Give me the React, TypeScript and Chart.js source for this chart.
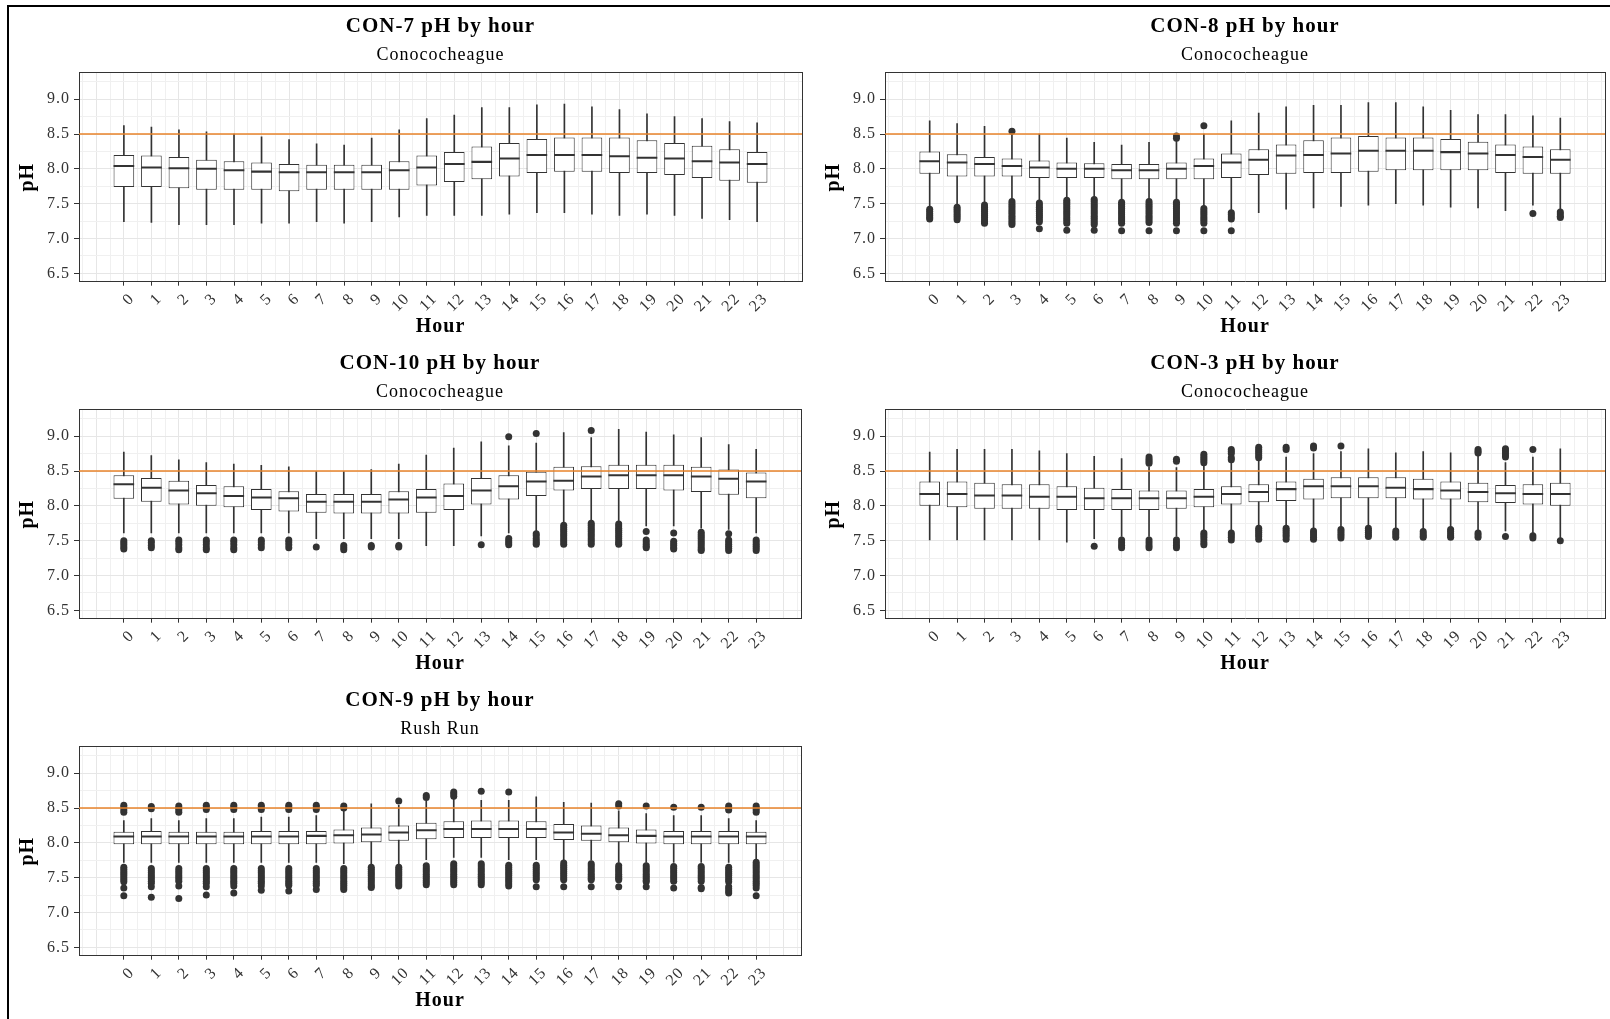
import React, { useEffect, useRef } from "react";
import { Chart, registerables } from "chart.js";

Chart.register(...registerables);

// ---------- axes / ticks ----------
const HOURS = [0, 1, 2, 3, 4, 5, 6, 7, 8, 9, 10, 11, 12, 13, 14, 15, 16, 17, 18, 19, 20, 21, 22, 23];
const X_MAJOR = [-1, 0, 1, 2, 3, 4, 5, 6, 7, 8, 9, 10, 11, 12, 13, 14, 15, 16, 17, 18, 19, 20, 21, 22, 23, 24];
const X_MINOR = [-1.5, -0.5, 0.5, 1.5, 2.5, 3.5, 4.5, 5.5, 6.5, 7.5, 8.5, 9.5, 10.5, 11.5, 12.5, 13.5, 14.5, 15.5, 16.5, 17.5, 18.5, 19.5, 20.5, 21.5, 22.5, 23.5, 24.5];
const Y_MAJOR = [6.5, 7.0, 7.5, 8.0, 8.5, 9.0];
const Y_MINOR = [6.75, 7.25, 7.75, 8.25, 8.75, 9.25];
const X_MIN = -1.63;
const X_MAX = 24.63;
const Y_MIN = 6.38;
const Y_MAX = 9.38;
const THRESHOLD = 8.5;

// ---------- CON-7 ----------
const con7Hi = [8.62, 8.60, 8.56, 8.53, 8.50, 8.46, 8.42, 8.36, 8.34, 8.44, 8.56, 8.72, 8.77, 8.88, 8.88, 8.92, 8.93, 8.89, 8.85, 8.79, 8.75, 8.72, 8.68, 8.66];
const con7Q3 = [8.20, 8.19, 8.17, 8.13, 8.11, 8.09, 8.07, 8.06, 8.06, 8.06, 8.11, 8.19, 8.24, 8.32, 8.37, 8.43, 8.45, 8.45, 8.45, 8.41, 8.37, 8.33, 8.28, 8.24];
const con7Med = [8.04, 8.02, 8.01, 8.00, 7.98, 7.96, 7.95, 7.95, 7.95, 7.95, 7.98, 8.02, 8.07, 8.10, 8.15, 8.20, 8.20, 8.20, 8.18, 8.16, 8.15, 8.11, 8.09, 8.07];
const con7Q1 = [7.74, 7.74, 7.72, 7.70, 7.70, 7.70, 7.68, 7.70, 7.70, 7.70, 7.70, 7.76, 7.81, 7.85, 7.89, 7.94, 7.96, 7.96, 7.94, 7.94, 7.91, 7.87, 7.83, 7.80];
const con7Lo = [7.24, 7.23, 7.20, 7.20, 7.20, 7.22, 7.22, 7.24, 7.22, 7.24, 7.31, 7.33, 7.33, 7.33, 7.35, 7.37, 7.37, 7.35, 7.33, 7.35, 7.33, 7.29, 7.27, 7.24];
const con7Out: number[][] = [[], [], [], [], [], [], [], [], [], [], [], [], [], [], [], [], [], [], [], [], [], [], [], []];

// ---------- CON-8 ----------
const con8Hi = [8.69, 8.65, 8.61, 8.53, 8.50, 8.44, 8.38, 8.34, 8.38, 8.42, 8.50, 8.69, 8.80, 8.89, 8.91, 8.91, 8.95, 8.95, 8.89, 8.84, 8.78, 8.78, 8.76, 8.73];
const con8Q3 = [8.25, 8.21, 8.17, 8.15, 8.12, 8.09, 8.08, 8.07, 8.07, 8.09, 8.15, 8.22, 8.28, 8.35, 8.41, 8.45, 8.47, 8.45, 8.45, 8.43, 8.39, 8.35, 8.32, 8.28];
const con8Med = [8.11, 8.09, 8.07, 8.04, 8.02, 8.00, 8.00, 7.98, 7.98, 8.00, 8.04, 8.09, 8.13, 8.19, 8.20, 8.22, 8.26, 8.26, 8.26, 8.24, 8.22, 8.20, 8.17, 8.13];
const con8Q1 = [7.93, 7.89, 7.89, 7.89, 7.87, 7.87, 7.87, 7.85, 7.85, 7.85, 7.85, 7.87, 7.91, 7.93, 7.94, 7.94, 7.96, 7.98, 7.98, 7.98, 7.98, 7.94, 7.93, 7.93];
const con8Lo = [7.45, 7.48, 7.52, 7.55, 7.53, 7.56, 7.57, 7.54, 7.55, 7.54, 7.46, 7.39, 7.37, 7.42, 7.44, 7.46, 7.48, 7.50, 7.48, 7.45, 7.44, 7.40, 7.48, 7.41];
const con8Out: number[][] = [
  [7.42, 7.39, 7.36, 7.33, 7.30, 7.28],
  [7.45, 7.42, 7.39, 7.36, 7.33, 7.30, 7.27],
  [7.48, 7.45, 7.42, 7.39, 7.36, 7.33, 7.30, 7.27, 7.24, 7.22],
  [8.54, 7.53, 7.50, 7.47, 7.44, 7.41, 7.38, 7.35, 7.32, 7.29, 7.26, 7.23, 7.20],
  [7.51, 7.48, 7.45, 7.42, 7.39, 7.36, 7.33, 7.30, 7.27, 7.24, 7.14],
  [7.55, 7.52, 7.49, 7.46, 7.43, 7.40, 7.37, 7.34, 7.31, 7.28, 7.25, 7.22, 7.12],
  [7.56, 7.53, 7.50, 7.47, 7.44, 7.41, 7.38, 7.35, 7.32, 7.29, 7.26, 7.23, 7.20, 7.12],
  [7.52, 7.49, 7.46, 7.43, 7.40, 7.37, 7.34, 7.31, 7.28, 7.25, 7.22, 7.11],
  [7.53, 7.50, 7.47, 7.44, 7.41, 7.38, 7.35, 7.32, 7.29, 7.26, 7.23, 7.11],
  [8.47, 8.44, 7.52, 7.49, 7.46, 7.43, 7.40, 7.37, 7.34, 7.31, 7.28, 7.25, 7.22, 7.11],
  [8.62, 7.43, 7.40, 7.37, 7.34, 7.31, 7.28, 7.25, 7.22, 7.11],
  [7.37, 7.34, 7.31, 7.28, 7.11],
  [], [], [], [], [], [], [], [], [], [],
  [7.36],
  [7.38, 7.35, 7.32, 7.30],
];

// ---------- CON-10 ----------
const con10Hi = [8.77, 8.72, 8.66, 8.62, 8.60, 8.58, 8.56, 8.49, 8.49, 8.52, 8.60, 8.73, 8.83, 8.92, 8.86, 8.90, 9.05, 8.98, 9.10, 9.06, 9.02, 8.98, 8.88, 8.81];
const con10Q3 = [8.44, 8.40, 8.36, 8.30, 8.28, 8.24, 8.21, 8.17, 8.17, 8.17, 8.21, 8.24, 8.32, 8.40, 8.44, 8.49, 8.56, 8.57, 8.59, 8.59, 8.59, 8.56, 8.52, 8.48];
const con10Med = [8.31, 8.26, 8.22, 8.18, 8.14, 8.12, 8.11, 8.06, 8.06, 8.06, 8.09, 8.12, 8.14, 8.22, 8.28, 8.35, 8.36, 8.42, 8.44, 8.44, 8.44, 8.42, 8.39, 8.35];
const con10Q1 = [8.10, 8.06, 8.02, 8.00, 7.98, 7.94, 7.92, 7.90, 7.89, 7.89, 7.89, 7.90, 7.94, 8.02, 8.09, 8.14, 8.22, 8.24, 8.24, 8.24, 8.22, 8.20, 8.16, 8.11];
const con10Lo = [7.61, 7.61, 7.61, 7.61, 7.61, 7.61, 7.61, 7.53, 7.53, 7.53, 7.53, 7.43, 7.43, 7.57, 7.61, 7.62, 7.77, 7.78, 7.78, 7.71, 7.71, 7.68, 7.66, 7.61];
const con10Out: number[][] = [
  [7.50, 7.47, 7.44, 7.41, 7.38],
  [7.50, 7.47, 7.43, 7.40],
  [7.51, 7.48, 7.44, 7.40, 7.37],
  [7.51, 7.48, 7.44, 7.40, 7.37],
  [7.51, 7.48, 7.44, 7.40, 7.37],
  [7.51, 7.48, 7.44, 7.40],
  [7.51, 7.48, 7.44, 7.40],
  [7.41],
  [7.43, 7.40, 7.37],
  [7.43, 7.41],
  [7.43, 7.41],
  [],
  [],
  [7.44],
  [8.99, 7.53, 7.50, 7.47, 7.44],
  [9.04, 7.60, 7.57, 7.53, 7.50, 7.47, 7.45],
  [7.72, 7.69, 7.66, 7.63, 7.60, 7.57, 7.54, 7.51, 7.48, 7.45],
  [9.08, 7.75, 7.72, 7.69, 7.66, 7.63, 7.60, 7.57, 7.54, 7.51, 7.48, 7.45],
  [7.74, 7.71, 7.68, 7.65, 7.62, 7.59, 7.56, 7.53, 7.50, 7.47, 7.45],
  [7.63, 7.51, 7.48, 7.45, 7.42, 7.40],
  [7.61, 7.49, 7.46, 7.43, 7.40, 7.38],
  [7.62, 7.59, 7.56, 7.53, 7.50, 7.47, 7.44, 7.41, 7.38, 7.36],
  [7.60, 7.51, 7.48, 7.45, 7.42, 7.39, 7.36],
  [7.51, 7.48, 7.45, 7.42, 7.39, 7.36],
];

// ---------- CON-3 ----------
const con3Hi = [8.77, 8.81, 8.81, 8.81, 8.79, 8.75, 8.71, 8.68, 8.56, 8.55, 8.57, 8.62, 8.65, 8.70, 8.75, 8.78, 8.82, 8.76, 8.78, 8.76, 8.71, 8.62, 8.70, 8.82];
const con3Q3 = [8.35, 8.35, 8.33, 8.31, 8.31, 8.28, 8.26, 8.24, 8.22, 8.22, 8.24, 8.28, 8.31, 8.35, 8.39, 8.41, 8.41, 8.41, 8.39, 8.35, 8.33, 8.30, 8.31, 8.33];
const con3Med = [8.17, 8.17, 8.15, 8.15, 8.13, 8.13, 8.11, 8.11, 8.11, 8.11, 8.13, 8.17, 8.20, 8.24, 8.28, 8.28, 8.28, 8.26, 8.24, 8.22, 8.20, 8.18, 8.17, 8.17];
const con3Q1 = [8.00, 7.98, 7.96, 7.96, 7.96, 7.94, 7.94, 7.94, 7.94, 7.96, 7.98, 8.02, 8.05, 8.07, 8.09, 8.11, 8.11, 8.11, 8.09, 8.09, 8.05, 8.04, 8.02, 8.00];
const con3Lo = [7.51, 7.51, 7.51, 7.51, 7.51, 7.48, 7.53, 7.56, 7.56, 7.56, 7.64, 7.64, 7.71, 7.71, 7.66, 7.68, 7.70, 7.66, 7.66, 7.68, 7.64, 7.64, 7.61, 7.54];
const con3Out: number[][] = [
  [], [], [], [], [], [],
  [7.42],
  [7.51, 7.47, 7.43, 7.40],
  [8.70, 8.67, 8.64, 8.61, 7.51, 7.47, 7.43, 7.40],
  [8.67, 8.64, 7.51, 7.47, 7.43, 7.40],
  [8.74, 8.71, 8.68, 8.65, 8.62, 7.61, 7.58, 7.55, 7.51, 7.47, 7.44],
  [8.81, 8.78, 8.75, 8.69, 8.66, 7.61, 7.58, 7.55, 7.51],
  [8.84, 8.81, 8.78, 8.75, 8.72, 8.69, 7.68, 7.65, 7.62, 7.59, 7.56, 7.52],
  [8.84, 8.81, 7.68, 7.65, 7.62, 7.59, 7.56, 7.52],
  [8.86, 8.83, 7.64, 7.61, 7.58, 7.55, 7.52],
  [8.86, 7.66, 7.63, 7.60, 7.57, 7.54],
  [7.68, 7.65, 7.62, 7.59, 7.56],
  [7.64, 7.61, 7.58, 7.55],
  [7.63, 7.60, 7.57, 7.55],
  [7.66, 7.63, 7.60, 7.57, 7.55],
  [8.81, 8.78, 8.76, 7.61, 7.58, 7.55],
  [8.82, 8.79, 8.76, 8.73, 8.70, 7.56],
  [8.81, 7.57, 7.54],
  [7.50],
];

// ---------- CON-9 ----------
const con9Hi = [8.32, 8.35, 8.32, 8.35, 8.35, 8.37, 8.37, 8.39, 8.46, 8.56, 8.54, 8.60, 8.63, 8.61, 8.61, 8.66, 8.58, 8.57, 8.46, 8.42, 8.39, 8.39, 8.35, 8.32];
const con9Q3 = [8.16, 8.17, 8.16, 8.16, 8.16, 8.17, 8.17, 8.17, 8.19, 8.22, 8.25, 8.29, 8.31, 8.32, 8.32, 8.31, 8.27, 8.25, 8.22, 8.19, 8.17, 8.17, 8.17, 8.16];
const con9Med = [8.09, 8.09, 8.09, 8.09, 8.09, 8.09, 8.09, 8.10, 8.11, 8.12, 8.15, 8.18, 8.20, 8.20, 8.20, 8.20, 8.15, 8.13, 8.11, 8.10, 8.09, 8.09, 8.09, 8.09];
const con9Q1 = [7.98, 7.98, 7.98, 7.98, 7.98, 7.98, 7.98, 7.98, 7.99, 8.01, 8.03, 8.05, 8.07, 8.07, 8.07, 8.07, 8.04, 8.03, 8.01, 7.99, 7.98, 7.98, 7.98, 7.98];
const con9Lo = [7.72, 7.72, 7.72, 7.72, 7.72, 7.72, 7.72, 7.72, 7.70, 7.70, 7.70, 7.76, 7.79, 7.79, 7.76, 7.76, 7.74, 7.75, 7.72, 7.72, 7.72, 7.72, 7.72, 7.75];
const con9Out: number[][] = [
  [8.54, 8.51, 8.47, 8.44, 7.65, 7.62, 7.59, 7.56, 7.53, 7.50, 7.47, 7.44, 7.35, 7.24],
  [8.52, 8.49, 7.63, 7.60, 7.57, 7.54, 7.51, 7.48, 7.45, 7.42, 7.37, 7.22],
  [8.53, 8.50, 8.47, 8.44, 7.63, 7.60, 7.57, 7.54, 7.51, 7.48, 7.45, 7.38, 7.20],
  [8.54, 8.51, 8.48, 7.63, 7.60, 7.57, 7.54, 7.51, 7.48, 7.45, 7.42, 7.37, 7.25],
  [8.54, 8.51, 8.48, 7.63, 7.60, 7.57, 7.54, 7.51, 7.48, 7.45, 7.42, 7.38, 7.28],
  [8.54, 8.51, 8.48, 7.63, 7.60, 7.57, 7.54, 7.51, 7.48, 7.45, 7.42, 7.38, 7.32],
  [8.54, 8.51, 8.48, 7.63, 7.60, 7.57, 7.54, 7.51, 7.48, 7.45, 7.42, 7.39, 7.31],
  [8.54, 8.51, 8.48, 7.63, 7.60, 7.57, 7.54, 7.51, 7.48, 7.45, 7.42, 7.39, 7.33],
  [8.53, 8.50, 7.63, 7.60, 7.57, 7.54, 7.51, 7.48, 7.45, 7.42, 7.39, 7.36, 7.33],
  [7.65, 7.62, 7.59, 7.56, 7.53, 7.50, 7.47, 7.44, 7.41, 7.38, 7.36],
  [8.60, 7.65, 7.62, 7.59, 7.56, 7.53, 7.50, 7.47, 7.44, 7.41, 7.38],
  [8.68, 8.65, 7.67, 7.64, 7.61, 7.58, 7.55, 7.52, 7.49, 7.46, 7.43, 7.40],
  [8.73, 8.70, 8.67, 7.70, 7.67, 7.64, 7.61, 7.58, 7.55, 7.52, 7.49, 7.46, 7.43, 7.40],
  [8.74, 7.70, 7.67, 7.64, 7.61, 7.58, 7.55, 7.52, 7.49, 7.46, 7.43, 7.40],
  [8.73, 7.68, 7.65, 7.62, 7.59, 7.56, 7.53, 7.50, 7.47, 7.44, 7.41, 7.38],
  [7.68, 7.65, 7.62, 7.59, 7.56, 7.53, 7.50, 7.47, 7.37],
  [7.71, 7.68, 7.65, 7.62, 7.59, 7.56, 7.53, 7.50, 7.47, 7.37],
  [7.70, 7.67, 7.64, 7.61, 7.58, 7.55, 7.52, 7.49, 7.47, 7.37],
  [8.56, 8.53, 7.67, 7.64, 7.61, 7.58, 7.55, 7.52, 7.49, 7.47, 7.37],
  [8.53, 7.67, 7.64, 7.61, 7.58, 7.55, 7.52, 7.49, 7.46, 7.44, 7.37],
  [8.51, 7.66, 7.63, 7.60, 7.57, 7.54, 7.51, 7.48, 7.45, 7.35],
  [8.51, 7.66, 7.63, 7.60, 7.57, 7.54, 7.51, 7.48, 7.45, 7.36, 7.34],
  [8.53, 8.50, 8.47, 7.65, 7.62, 7.59, 7.56, 7.53, 7.50, 7.47, 7.44, 7.37, 7.34, 7.31, 7.28],
  [8.53, 8.50, 8.47, 8.44, 7.72, 7.69, 7.66, 7.63, 7.60, 7.57, 7.54, 7.51, 7.48, 7.45, 7.42, 7.39, 7.35, 7.24],
];

// ---------- styling ----------
const FONT = '"Liberation Serif", "Times New Roman", serif';
const DARK = "#333333";
const ORANGE = "#E8832A";
const GRID_MAJOR = "#e6e6e6";
const GRID_MINOR = "#f0f0f0";
const MEDIAN_HALF = 0.0145; // half thickness of the median bar, in pH units
const LETTER_SPACING = "1px";

type PanelCfg = {
  title: string;
  subtitle: string;
  lo: number[];
  q1: number[];
  med: number[];
  q3: number[];
  hi: number[];
  out: number[][];
  left: number;
  top: number;
  width: number;
};

const CANVAS_H = 337;
const X_AXIS_H = 55.3;
const Y_AXIS_W = 69;

const PANELS: PanelCfg[] = [
  { title: "CON-7 pH by hour", subtitle: "Conococheague", lo: con7Lo, q1: con7Q1, med: con7Med, q3: con7Q3, hi: con7Hi, out: con7Out, left: 10, top: 0, width: 795 },
  { title: "CON-8 pH by hour", subtitle: "Conococheague", lo: con8Lo, q1: con8Q1, med: con8Med, q3: con8Q3, hi: con8Hi, out: con8Out, left: 816, top: 0, width: 793 },
  { title: "CON-10 pH by hour", subtitle: "Conococheague", lo: con10Lo, q1: con10Q1, med: con10Med, q3: con10Q3, hi: con10Hi, out: con10Out, left: 10, top: 337, width: 795 },
  { title: "CON-3 pH by hour", subtitle: "Conococheague", lo: con3Lo, q1: con3Q1, med: con3Med, q3: con3Q3, hi: con3Hi, out: con3Out, left: 816, top: 337, width: 793 },
  { title: "CON-9 pH by hour", subtitle: "Rush Run", lo: con9Lo, q1: con9Q1, med: con9Med, q3: con9Q3, hi: con9Hi, out: con9Out, left: 10, top: 674, width: 795 },
];

// widen the serif text slightly, like the reference rendering
const spacingPlugin = {
  id: "letterSpacing",
  beforeUpdate(chart: any) {
    if ("letterSpacing" in chart.ctx) chart.ctx.letterSpacing = LETTER_SPACING;
  },
  beforeDraw(chart: any) {
    if ("letterSpacing" in chart.ctx) chart.ctx.letterSpacing = LETTER_SPACING;
  },
};

function Panel({ cfg }: { cfg: PanelCfg }) {
  const ref = useRef<HTMLCanvasElement>(null);

  useEffect(() => {
    const canvas = ref.current;
    if (!canvas) return;

    const whiskers = HOURS.map((h, i) => ({ x: h, y: [cfg.lo[i], cfg.hi[i]] }));
    const boxes = HOURS.map((h, i) => ({ x: h, y: [cfg.q1[i], cfg.q3[i]] }));
    const medians = HOURS.map((h, i) => ({ x: h, y: [cfg.med[i] - MEDIAN_HALF, cfg.med[i] + MEDIAN_HALF] }));
    const outliers: { x: number; y: number }[] = [];
    HOURS.forEach((h, i) => cfg.out[i].forEach((v) => outliers.push({ x: h, y: v })));

    const chart = new Chart(canvas, {
      type: "bar",
      plugins: [spacingPlugin],
      data: {
        datasets: [
          {
            type: "line",
            data: [
              { x: X_MIN, y: THRESHOLD },
              { x: X_MAX, y: THRESHOLD },
            ],
            borderColor: ORANGE,
            borderWidth: 1.6,
            pointRadius: 0,
            order: 0,
          } as any,
          {
            type: "scatter",
            data: outliers,
            pointRadius: 3.5,
            pointBackgroundColor: DARK,
            pointBorderWidth: 0,
            order: 1,
          } as any,
          {
            type: "bar",
            data: medians,
            backgroundColor: DARK,
            borderWidth: 0,
            grouped: false,
            categoryPercentage: 1,
            barPercentage: 0.75,
            order: 1,
          } as any,
          {
            type: "bar",
            data: boxes,
            backgroundColor: "#ffffff",
            borderColor: DARK,
            borderWidth: 1,
            borderSkipped: false,
            grouped: false,
            categoryPercentage: 1,
            barPercentage: 0.75,
            order: 2,
          } as any,
          {
            type: "bar",
            data: whiskers,
            backgroundColor: DARK,
            borderWidth: 0,
            barThickness: 1,
            grouped: false,
            order: 3,
          } as any,
        ],
      },
      options: {
        animation: false,
        responsive: false,
        maintainAspectRatio: false,
        events: [],
        layout: { padding: { left: 0, right: 3, top: 0, bottom: 0 } },
        plugins: {
          legend: { display: false },
          tooltip: { enabled: false },
          title: {
            display: true,
            text: cfg.title,
            fullSize: false,
            color: "#000000",
            font: { family: FONT, size: 21, weight: "bold", lineHeight: 1.2 },
            padding: { top: 14.3, bottom: 0 },
          },
          subtitle: {
            display: true,
            text: cfg.subtitle,
            fullSize: false,
            color: "#000000",
            font: { family: FONT, size: 18, weight: "normal", lineHeight: 1.2 },
            padding: { top: 4.5, bottom: 7.1 },
          },
        },
        scales: {
          x: {
            type: "linear",
            position: "bottom",
            min: X_MIN,
            max: X_MAX,
            offset: false,
            afterBuildTicks: (s: any) => {
              s.ticks = X_MAJOR.map((v) => ({ value: v }));
            },
            afterFit: (s: any) => {
              s.height = X_AXIS_H;
            },
            ticks: {
              autoSkip: false,
              minRotation: 45,
              maxRotation: 45,
              padding: 4,
              labelOffset: 8,
              color: DARK,
              font: { family: FONT, size: 16 },
              callback: (v: any) => (v >= 0 && v <= 23 ? String(v) : ""),
            },
            grid: {
              offset: false,
              color: GRID_MAJOR,
              lineWidth: 1,
              drawTicks: true,
              tickLength: 4,
              tickWidth: 1,
              tickColor: (ctx: any) =>
                ctx.tick && ctx.tick.value >= 0 && ctx.tick.value <= 23 ? DARK : "rgba(0,0,0,0)",
            },
            border: { display: true, color: DARK, width: 1 },
            title: {
              display: true,
              text: "Hour",
              color: "#000000",
              font: { family: FONT, size: 20, weight: "bold", lineHeight: 1 },
              padding: { top: 0, bottom: 0.5 },
            },
          },
          x2: {
            type: "linear",
            position: "top",
            display: true,
            min: X_MIN,
            max: X_MAX,
            offset: false,
            afterBuildTicks: (s: any) => {
              s.ticks = X_MINOR.map((v) => ({ value: v }));
            },
            ticks: { display: false },
            grid: { offset: false, color: GRID_MINOR, lineWidth: 1, drawTicks: false },
            border: { display: true, color: DARK, width: 1 },
          },
          y: {
            type: "linear",
            position: "left",
            min: Y_MIN,
            max: Y_MAX,
            beginAtZero: false,
            afterBuildTicks: (s: any) => {
              s.ticks = Y_MAJOR.map((v) => ({ value: v }));
            },
            afterFit: (s: any) => {
              s.width = Y_AXIS_W;
            },
            ticks: {
              autoSkip: false,
              padding: 4,
              color: DARK,
              font: { family: FONT, size: 16 },
              callback: (v: any) => Number(v).toFixed(1),
            },
            grid: {
              color: GRID_MAJOR,
              lineWidth: 1,
              drawTicks: true,
              tickLength: 5,
              tickWidth: 1,
              tickColor: DARK,
            },
            border: { display: true, color: DARK, width: 1 },
            title: {
              display: true,
              text: "pH",
              color: "#000000",
              font: { family: FONT, size: 20, weight: "bold", lineHeight: 1 },
              padding: { top: 8, bottom: 0 },
            },
          },
          y2: {
            type: "linear",
            position: "right",
            display: true,
            min: Y_MIN,
            max: Y_MAX,
            beginAtZero: false,
            afterBuildTicks: (s: any) => {
              s.ticks = Y_MINOR.map((v) => ({ value: v }));
            },
            ticks: { display: false },
            grid: { color: GRID_MINOR, lineWidth: 1, drawTicks: false },
            border: { display: true, color: DARK, width: 1 },
          },
        },
      } as any,
    });

    return () => chart.destroy();
  }, [cfg]);

  return (
    <canvas
      ref={ref}
      width={cfg.width}
      height={CANVAS_H}
      style={{
        position: "absolute",
        left: cfg.left,
        top: cfg.top,
        width: cfg.width,
        height: CANVAS_H,
      }}
    />
  );
}

export default function App() {
  return (
    <div
      style={{
        position: "absolute",
        left: 0,
        top: 0,
        width: 1610,
        height: 1019,
        background: "#ffffff",
        overflow: "hidden",
      }}
    >
      <div
        style={{
          position: "absolute",
          left: 7,
          top: 5,
          width: 1610,
          height: 1030,
          borderTop: "2px solid #000",
          borderLeft: "2px solid #000",
          boxSizing: "border-box",
        }}
      />
      {PANELS.map((p) => (
        <Panel key={p.title} cfg={p} />
      ))}
    </div>
  );
}
